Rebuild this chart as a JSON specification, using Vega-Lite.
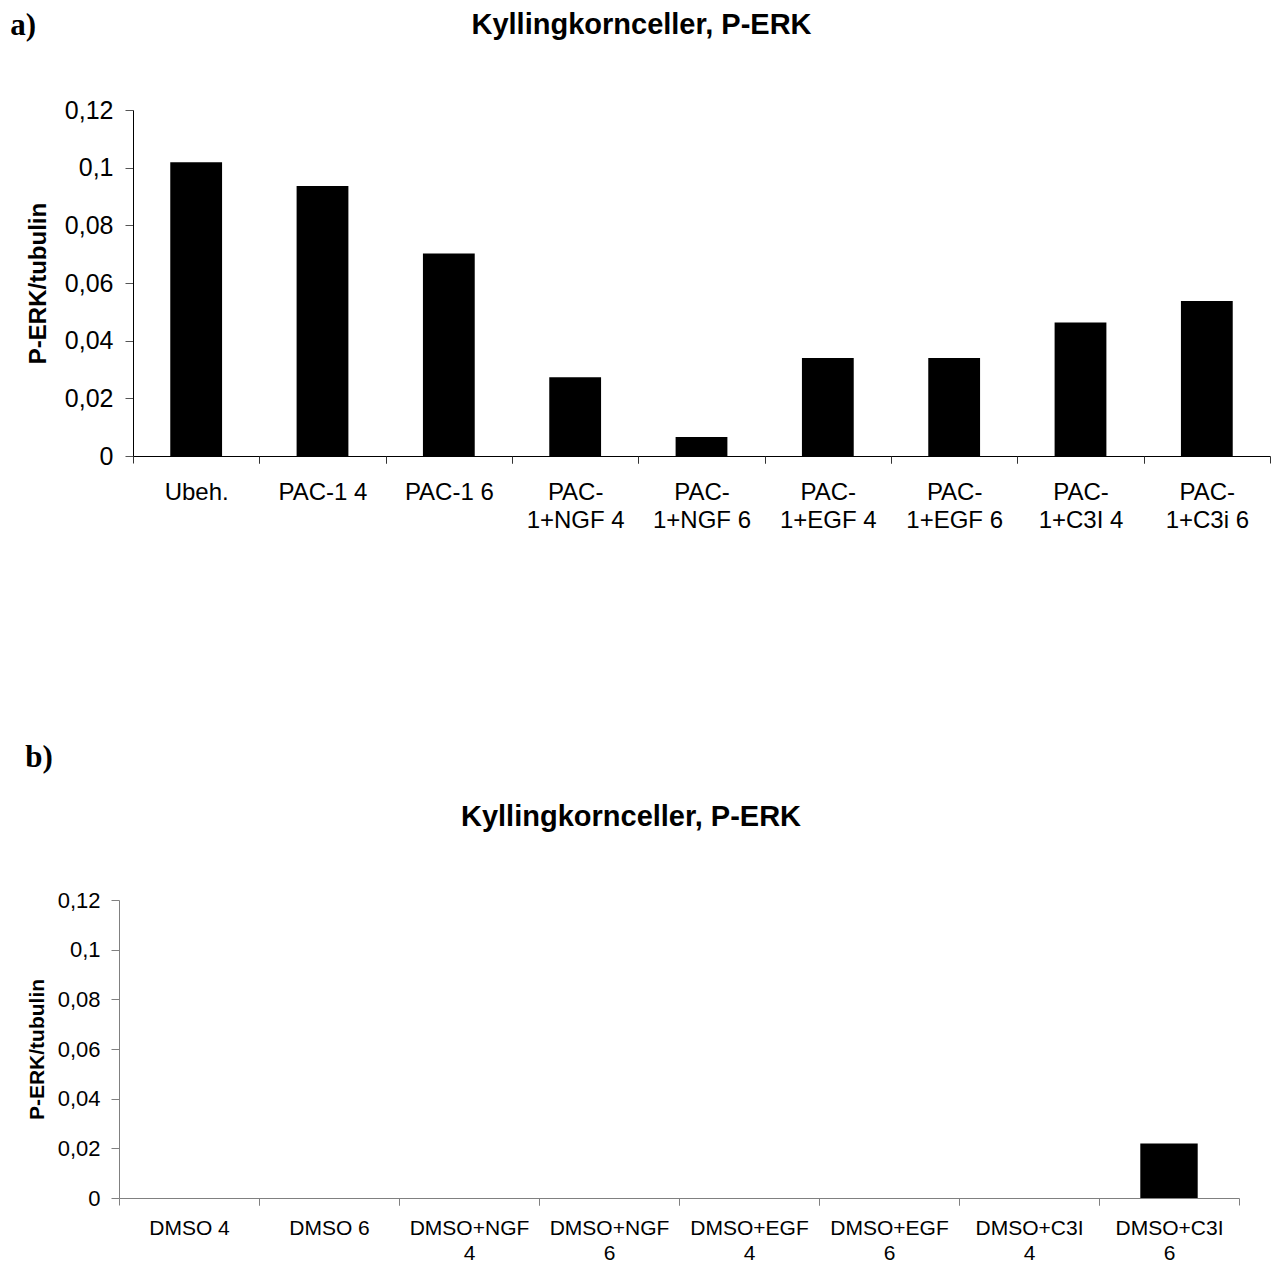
{
  "$schema": "https://vega.github.io/schema/vega-lite/v6.json",
  "padding": {"left": 10, "top": 10, "right": 0, "bottom": 0},
  "background": "white",
  "config": {"view": {"stroke": null}, "font": "Liberation Sans"},
  "title": {"text": "a)", "anchor": "start", "font": "Liberation Serif", "fontSize": 31, "fontWeight": "bold", "baseline": "alphabetic", "offset": -55, "dx": -15, "color": "black"},
  "columns": 1,
  "spacing": 210,
  "concat": [
    {
      "bounds": "flush",
      "spacing": 0,
      "hconcat": [
        {
          "width": 14,
          "height": 1,
          "data": {"values": [{}]},
          "mark": {"type": "point", "opacity": 0},
          "encoding": {}
        },
        {
          "title": {"text": "Kyllingkornceller, P-ERK", "font": "Liberation Sans", "fontSize": 29, "fontWeight": "bold", "baseline": "alphabetic", "offset": 35, "anchor": "middle", "frame": "group", "dx": -60, "color": "black"},
          "width": 1137,
          "height": 346,
          "data": {"values": [
            {"treatment": "Ubeh.", "value": 0.1019},
            {"treatment": "PAC-1 4", "value": 0.0936},
            {"treatment": "PAC-1 6", "value": 0.0702},
            {"treatment": "PAC-1+NGF 4", "value": 0.0273},
            {"treatment": "PAC-1+NGF 6", "value": 0.0066},
            {"treatment": "PAC-1+EGF 4", "value": 0.0340},
            {"treatment": "PAC-1+EGF 6", "value": 0.0340},
            {"treatment": "PAC-1+C3I 4", "value": 0.0463},
            {"treatment": "PAC-1+C3i 6", "value": 0.0538}
          ]},
          "layer": [
            {
              "mark": {"type": "bar", "color": "black"},
              "encoding": {
                "x": {"field": "treatment", "type": "nominal", "sort": null,
                  "scale": {"paddingInner": 0.59, "paddingOuter": 0.295},
                  "axis": {"title": null, "labelAngle": 0, "labelFontSize": 24, "labelColor": "black", "labelLineHeight": 28, "labelPadding": 17, "labelOverlap": false, "labelLimit": 0, "tickSize": 7, "tickOffset": -63.17, "labelOffset": 63.17, "domainColor": "black", "tickColor": "#333333",
                    "labelExpr": "length(datum.value) > 9 ? ['PAC-', substring(datum.value, 4)] : datum.value"}},
                "y": {"field": "value", "type": "quantitative",
                  "scale": {"domain": [0, 0.12], "nice": false},
                  "axis": {"values": [0, 0.02, 0.04, 0.06, 0.08, 0.1, 0.12], "labelExpr": "replace(toString(datum.value), '.', ',')", "grid": false, "tickSize": 8, "labelPadding": 12, "labelFontSize": 25, "labelColor": "black", "domainColor": "black", "tickColor": "#555555", "title": "P-ERK/tubulin", "titleFontSize": 24, "titleFontWeight": "bold", "titleColor": "black", "titlePadding": 14}}
              }
            },
            {
              "mark": {"type": "bar", "opacity": 0},
              "encoding": {
                "x": {"field": "treatment", "type": "nominal", "sort": null,
                  "axis": {"orient": "bottom", "title": null, "labels": false, "domain": false, "tickSize": 7, "tickOffset": 63.17, "tickColor": "#333333"}},
                "y": {"field": "value", "type": "quantitative"}
              }
            }
          ],
          "resolve": {"axis": {"x": "independent"}}
        }
      ]
    },
    {
      "title": {"text": "b)", "anchor": "start", "font": "Liberation Serif", "fontSize": 31, "fontWeight": "bold", "baseline": "alphabetic", "offset": 5, "dx": -1, "color": "black"},
      "vconcat": [
        {
          "title": {"text": "Kyllingkornceller, P-ERK", "font": "Liberation Sans", "fontSize": 29, "fontWeight": "bold", "baseline": "alphabetic", "offset": 34, "anchor": "middle", "frame": "group", "dx": -48, "color": "black"},
          "width": 1120,
          "height": 298,
          "data": {"values": [
            {"treatment": "DMSO 4", "value": 0},
            {"treatment": "DMSO 6", "value": 0},
            {"treatment": "DMSO+NGF 4", "value": 0},
            {"treatment": "DMSO+NGF 6", "value": 0},
            {"treatment": "DMSO+EGF 4", "value": 0},
            {"treatment": "DMSO+EGF 6", "value": 0},
            {"treatment": "DMSO+C3I 4", "value": 0},
            {"treatment": "DMSO+C3I 6", "value": 0.0219}
          ]},
          "layer": [
            {
              "mark": {"type": "bar", "color": "black"},
              "encoding": {
                "x": {"field": "treatment", "type": "nominal", "sort": null,
                  "scale": {"paddingInner": 0.59, "paddingOuter": 0.295},
                  "axis": {"title": null, "labelAngle": 0, "labelFontSize": 21, "labelColor": "black", "labelLineHeight": 25, "labelPadding": 12, "labelOverlap": false, "labelLimit": 0, "tickSize": 7, "tickOffset": -70, "labelOffset": 70, "domainColor": "#808080", "tickColor": "#808080",
                    "labelExpr": "length(datum.value) > 7 ? [substring(datum.value, 0, length(datum.value) - 2), substring(datum.value, length(datum.value) - 1)] : datum.value"}},
                "y": {"field": "value", "type": "quantitative",
                  "scale": {"domain": [0, 0.12], "nice": false},
                  "axis": {"values": [0, 0.02, 0.04, 0.06, 0.08, 0.1, 0.12], "labelExpr": "replace(toString(datum.value), '.', ',')", "grid": false, "tickSize": 8, "labelPadding": 11, "labelFontSize": 22, "labelColor": "black", "domainColor": "#808080", "tickColor": "#808080", "title": "P-ERK/tubulin", "titleFontSize": 21, "titleFontWeight": "bold", "titleColor": "black", "titlePadding": 10}}
              }
            },
            {
              "mark": {"type": "bar", "opacity": 0},
              "encoding": {
                "x": {"field": "treatment", "type": "nominal", "sort": null,
                  "axis": {"orient": "bottom", "title": null, "labels": false, "domain": false, "tickSize": 7, "tickOffset": 70, "tickColor": "#808080"}},
                "y": {"field": "value", "type": "quantitative"}
              }
            }
          ],
          "resolve": {"axis": {"x": "independent"}}
        }
      ]
    }
  ]
}
